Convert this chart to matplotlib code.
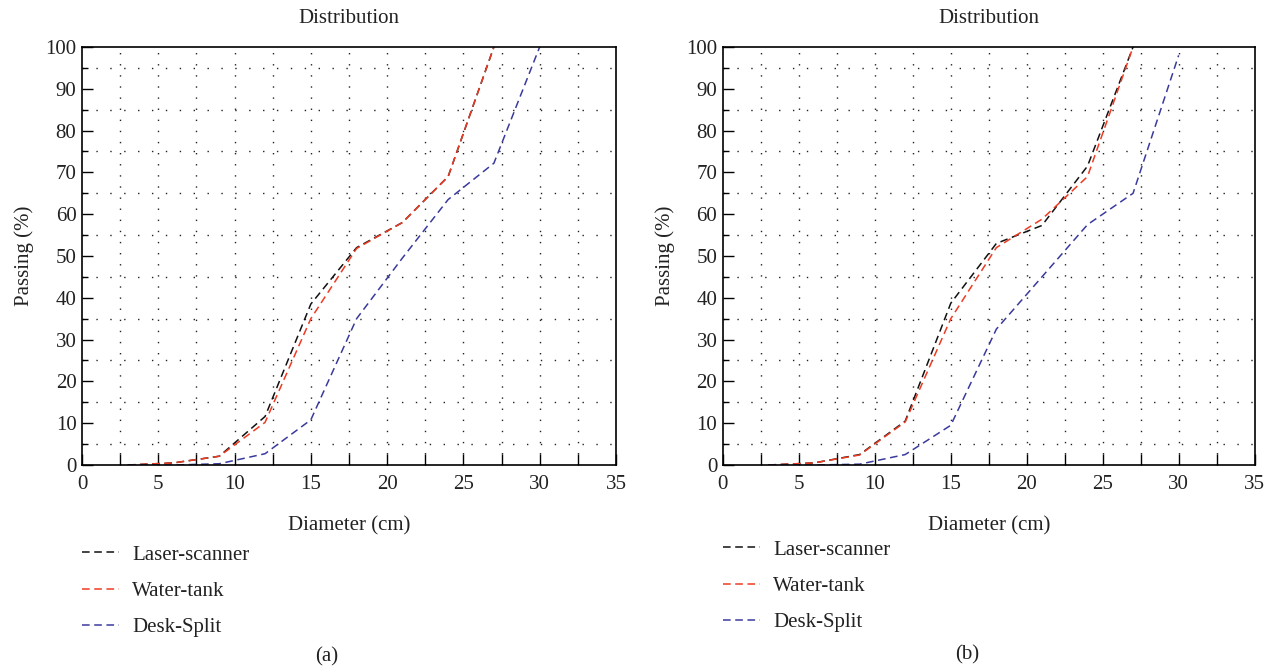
import numpy as np
import matplotlib
matplotlib.use('Agg')
import matplotlib.pyplot as plt

plt.rcParams['font.family'] = ['Liberation Serif', 'DejaVu Serif']

# diameter (cm) of the sieve steps
diam = [3, 6, 9, 12, 15, 18, 21, 24, 27]
diam_ds = [3, 6, 9, 12, 15, 18, 21, 24, 27, 30]

# panel (a)
laser_a = [0, 0.5, 2.1, 11.6, 38.5, 52, 58, 69, 100]
water_a = [0, 0.5, 2.1, 10.2, 35, 51.8, 58, 69, 100]
desk_a = [0, 0, 0.3, 2.7, 10.8, 35, 49.5, 63.5, 72.2, 100]

# panel (b)
laser_b = [0, 0.5, 2.5, 10.5, 38.7, 53, 57.3, 71.5, 100]
water_b = [0, 0.5, 2.4, 10.3, 35, 52, 58.8, 69, 100]
desk_b = [0, 0, 0.2, 2.5, 9.5, 32.5, 45, 57.5, 65, 98]

labels = ['Laser-scanner', 'Water-tank', 'Desk-Split']
colors = ['#111111', '#ee3b22', '#3a3a9e']
captions = ['(a)', '(b)']


def draw_panel(ax, series, lx, ly):
    dash = (0, (5, 3))
    for (xs, ys), lab, c in zip(series, labels, colors):
        ax.plot(xs, ys, color=c, lw=1.1, linestyle=dash, label=lab)
    ax.set_xlim(0, 35)
    ax.set_ylim(0, 100)
    # ticks: x every 2.5, labels every 5
    xt = np.arange(0, 35.1, 2.5)
    ax.set_xticks(xt)
    ax.set_xticklabels([str(int(v)) if v % 5 == 0 else '' for v in xt])
    ax.set_yticks(np.arange(0, 101, 10))
    ax.set_yticks(np.arange(5, 100, 10), minor=True)
    ax.tick_params(axis='both', which='major', direction='in', length=8, width=1.0,
                   labelsize=15, color='black', labelcolor='#222222')
    ax.tick_params(axis='x', which='major', pad=7)
    ax.tick_params(axis='y', which='major', pad=4)
    ax.tick_params(axis='y', which='minor', direction='in', length=4, width=1.0)
    # dotted grid: vertical every 2.5, horizontal at 5,15,..95
    for v in xt[1:-1]:
        ax.axvline(v, color='#222222', lw=1.0, linestyle=(0, (1, 7)), zorder=0)
    for h in np.arange(5, 100, 10):
        ax.axhline(h, color='#222222', lw=1.0, linestyle=(0, (1, 9)), zorder=0)
    for s in ax.spines.values():
        s.set_linewidth(1.2)
    ax.set_title('Distribution', fontsize=15, pad=17, color='#222222')
    ax.set_xlabel('Diameter (cm)', fontsize=15, labelpad=16, color='#222222')
    ax.set_ylabel('Passing (%)', fontsize=15, labelpad=8, color='#222222')
    leg = ax.legend(loc='upper left', bbox_to_anchor=(lx, ly), bbox_transform=fig.transFigure,
                    frameon=False, fontsize=15, handlelength=1.8, handletextpad=0.6,
                    labelspacing=0.8, borderpad=0, borderaxespad=0)
    for t in leg.get_texts():
        t.set_color('#222222')


fig = plt.figure(figsize=(12.75, 6.71), dpi=100)
ax1 = fig.add_axes([0.0643, 0.307, 0.4188, 0.623])
ax2 = fig.add_axes([0.567, 0.307, 0.417, 0.623])

draw_panel(ax1, [(diam, laser_a), (diam, water_a), (diam_ds, desk_a)], 0.0643, 1 - 545 / 671)
draw_panel(ax2, [(diam, laser_b), (diam, water_b), (diam_ds, desk_b)], 0.567, 1 - 540 / 671)

fig.text(327 / 1275, 1 - 657 / 671, captions[0], fontsize=15, ha='center', va='center', color='#222222')
fig.text(967 / 1275, 1 - 655 / 671, captions[1], fontsize=15, ha='center', va='center', color='#222222')

fig.savefig('out.png', dpi=100)
